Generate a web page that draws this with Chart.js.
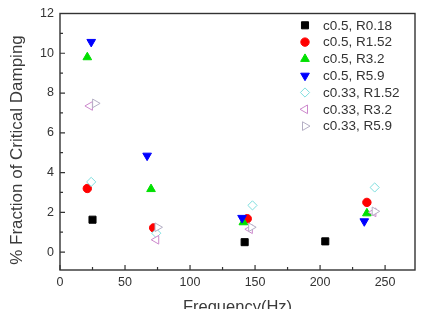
<!DOCTYPE html>
<html>
<head>
<meta charset="utf-8">
<script src="https://cdn.jsdelivr.net/npm/chart.js@4/dist/chart.umd.min.js"></script>
<style>
  html, body { margin: 0; padding: 0; background: #fff; }
  #wrap { width: 421px; height: 309px; }
</style>
</head>
<body>
<div id="wrap"><canvas id="c" width="421" height="309"></canvas></div>
<script>
// ---- data ----
const seriesLabels = ['c0.5, R0.18', 'c0.5, R1.52', 'c0.5, R3.2', 'c0.5, R5.9',
                      'c0.33, R1.52', 'c0.33, R3.2', 'c0.33, R5.9'];
const xR018 = [25, 142, 204];
const yR018 = [1.63, 0.50, 0.54];
const xR152 = [21, 72, 144, 236];
const yR152 = [3.20, 1.22, 1.68, 2.50];
const xR32  = [21, 70, 141, 236];
const yR32  = [9.80, 3.17, 1.50, 1.95];
const xR59  = [24, 67, 140, 234];
const yR59  = [10.57, 4.85, 1.72, 1.55];
const xC33R152 = [24, 74, 148, 242];
const yC33R152 = [3.53, 0.95, 2.35, 3.25];
const xC33R32  = [23, 74, 146, 241];
const yC33R32  = [7.35, 0.62, 1.15, 2.00];
const xC33R59  = [27, 75, 147, 242];
const yC33R59  = [7.48, 1.25, 1.25, 2.05];
const xTickLabels = [0, 50, 100, 150, 200, 250];
const yTickLabels = [0, 2, 4, 6, 8, 10, 12];
const xTitle = 'Frequency(Hz)';
const yTitle = '% Fraction of Critical Damping';

const FONT = '"Liberation Sans", Arial, sans-serif';
const pts = (xs, ys) => xs.map((x, i) => ({ x: x, y: ys[i] }));

const styles = [
  { pointStyle: 'rect',     rotation: 0,   radius: 5,   bg: '#000000', border: '#000000' },
  { pointStyle: 'circle',   rotation: 0,   radius: 4.2, bg: '#ff0000', border: '#ff0000' },
  { pointStyle: 'triangle', rotation: 0,   radius: 5,   bg: '#00e000', border: '#00e000' },
  { pointStyle: 'triangle', rotation: 180, radius: 5,   bg: '#0000ff', border: '#0000ff' },
  { pointStyle: 'rectRot',  rotation: 0,   radius: 4.6, bg: '#ffffff', border: '#7fdede' },
  { pointStyle: 'triangle', rotation: -90, radius: 5,   bg: '#ffffff', border: '#cc88cc' },
  { pointStyle: 'triangle', rotation: 90,  radius: 5,   bg: '#ffffff', border: '#b4aec4' }
];
const dataSets = [
  pts(xR018, yR018), pts(xR152, yR152), pts(xR32, yR32), pts(xR59, yR59),
  pts(xC33R152, yC33R152), pts(xC33R32, yC33R32), pts(xC33R59, yC33R59)
];

const datasets = dataSets.map((d, i) => ({
  label: seriesLabels[i],
  data: d,
  order: dataSets.length - i,
  pointStyle: styles[i].pointStyle,
  rotation: styles[i].rotation,
  pointRadius: styles[i].radius,
  pointHoverRadius: styles[i].radius,
  backgroundColor: styles[i].bg,
  borderColor: styles[i].border,
  pointBorderWidth: 1,
  showLine: false
}));

const framePlugin = {
  id: 'frame',
  afterDatasetsDraw(chart) {
    const { ctx, chartArea: a, scales } = chart;
    const xs = scales.x, ys = scales.y;
    ctx.save();
    ctx.strokeStyle = '#333333';
    ctx.lineWidth = 1.4;
    ctx.strokeRect(a.left, a.top, a.right - a.left, a.bottom - a.top);
    ctx.lineWidth = 1.2;
    ctx.beginPath();
    for (let i = 0; i < xTickLabels.length; i++) {
      const v = xTickLabels[i];
      const px = xs.getPixelForValue(v);
      ctx.moveTo(px, a.bottom); ctx.lineTo(px, a.bottom - 5);
      const m = v + (xTickLabels[1] - xTickLabels[0]) / 2;
      if (m < xs.max) {
        const pm = xs.getPixelForValue(m);
        ctx.moveTo(pm, a.bottom); ctx.lineTo(pm, a.bottom - 3);
      }
    }
    for (let i = 0; i < yTickLabels.length; i++) {
      const v = yTickLabels[i];
      const py = ys.getPixelForValue(v);
      ctx.moveTo(a.left, py); ctx.lineTo(a.left + 5, py);
      const m = v + (yTickLabels[1] - yTickLabels[0]) / 2;
      if (m < ys.max) {
        const pm = ys.getPixelForValue(m);
        ctx.moveTo(a.left, pm); ctx.lineTo(a.left + 3, pm);
      }
    }
    ctx.stroke();

    // axis titles
    ctx.fillStyle = '#3a3a3a';
    ctx.font = '16.5px ' + FONT;
    ctx.textAlign = 'center';
    ctx.textBaseline = 'alphabetic';
    ctx.fillText(xTitle, (a.left + a.right) / 2, 312);
    ctx.save();
    ctx.translate(22, 150);
    ctx.rotate(-Math.PI / 2);
    ctx.font = '17px ' + FONT;
    ctx.fillText(yTitle, 0, 0);
    ctx.restore();

    // legend (inside plot, top right)
    ctx.font = '13.5px ' + FONT;
    ctx.textAlign = 'left';
    ctx.textBaseline = 'middle';
    chart.data.datasets.forEach((ds, i) => {
      const y = 25.3 + i * 16.8;
      ctx.fillStyle = ds.backgroundColor;
      ctx.strokeStyle = ds.borderColor;
      ctx.lineWidth = 1;
      Chart.helpers.drawPoint(ctx, {
        pointStyle: ds.pointStyle, rotation: ds.rotation,
        radius: ds.pointRadius, borderWidth: 1
      }, 305, y);
      ctx.fillStyle = '#333333';
      ctx.fillText(ds.label, 323, y + 0.5);
    });
    ctx.restore();
  }
};

new Chart(document.getElementById('c'), {
  type: 'scatter',
  data: { datasets: datasets },
  options: {
    responsive: false,
    animation: false,
    devicePixelRatio: 1,
    layout: { padding: { top: 6, right: 5, left: 0, bottom: 0 } },
    plugins: { legend: { display: false }, tooltip: { enabled: false } },
    scales: {
      x: {
        type: 'linear', min: 0, max: 273,
        grid: { display: false, drawTicks: false }, border: { display: false },
        afterFit(s) { s.height = 39; },
        afterBuildTicks(s) { s.ticks = xTickLabels.map(v => ({ value: v })); },
        ticks: { color: '#333333', font: { family: FONT, size: 12.5 }, padding: 5, maxRotation: 0, autoSkip: false }
      },
      y: {
        type: 'linear', min: -0.9, max: 12,
        grid: { display: false, drawTicks: false }, border: { display: false },
        afterFit(s) { s.width = 60; },
        afterBuildTicks(s) { s.ticks = yTickLabels.map(v => ({ value: v })); },
        ticks: { color: '#333333', font: { family: FONT, size: 12.5 }, padding: 6, autoSkip: false }
      }
    }
  },
  plugins: [framePlugin]
});
</script>
</body>
</html>
